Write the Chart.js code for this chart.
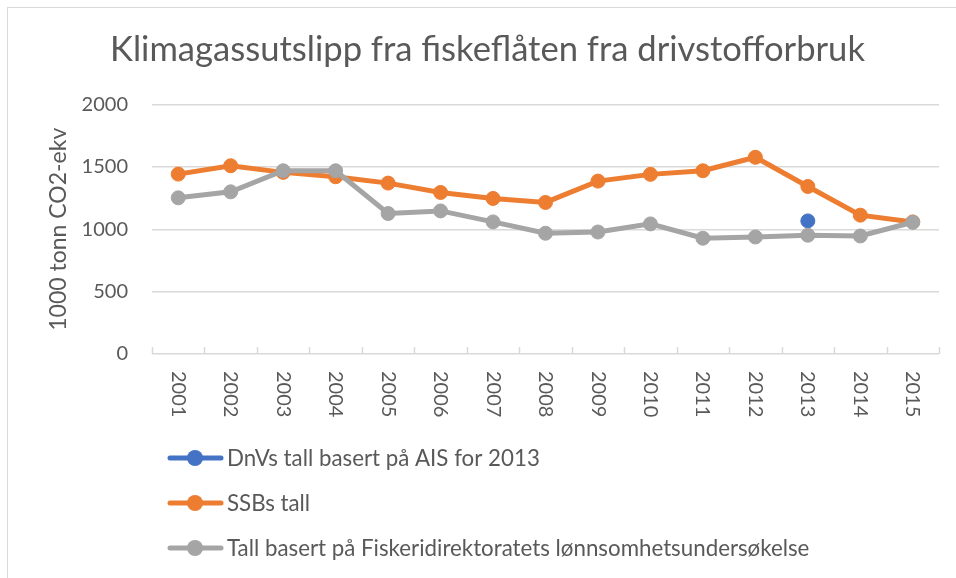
<!DOCTYPE html>
<html>
<head>
<meta charset="utf-8">
<script src="https://cdn.jsdelivr.net/npm/chart.js@4"></script>
<style>
  html, body { margin: 0; padding: 0; background: #fff; }
  #wrap { position: relative; width: 956px; height: 578px; }
</style>
</head>
<body>
<div id="wrap"><canvas id="c" width="956" height="578"></canvas></div>
<script>
const categories = ['2001','2002','2003','2004','2005','2006','2007','2008','2009','2010','2011','2012','2013','2014','2015'];
const dnvValues = [null,null,null,null,null,null,null,null,null,null,null,null,1067,null,null];
const ssbValues = [1442,1509,1456,1421,1370,1295,1247,1215,1386,1440,1469,1577,1343,1113,1059];
const fdirValues = [1252,1300,1469,1469,1126,1147,1059,968,978,1043,928,938,952,946,1056];
const yTicks = [0,500,1000,1500,2000];
const yTickLabels = ['0','500','1000','1500','2000'];
const seriesNames = ['DnVs tall basert på AIS for 2013','SSBs tall','Tall basert på Fiskeridirektoratets lønnsomhetsundersøkelse'];
const titleText = 'Klimagassutslipp fra fiskeflåten fra drivstofforbruk';
const yTitle = '1000 tonn CO2-ekv';

const FONT = 'Lato';
const TXT = '#595959';
const GRID = '#D9D9D9';
const colors = ['#4472C4','#ED7D31','#A5A5A5'];

const decor = {
  id: 'decor',
  beforeDraw(chart) {
    const ctx = chart.ctx;
    ctx.save();
    ctx.strokeStyle = GRID;
    ctx.lineWidth = 1;
    ctx.strokeRect(7.5, 7.5, 1000, 1000);
    ctx.restore();
  },
  afterDraw(chart) {
    const ctx = chart.ctx;
    const xs = chart.scales.x;
    const area = chart.chartArea;
    ctx.save();
    ctx.strokeStyle = GRID;
    ctx.lineWidth = 1.5;
    const n = categories.length;
    for (let i = 0; i <= n; i++) {
      const x = Math.round(xs.getPixelForValue(i - 0.5)) + 0.5;
      ctx.beginPath();
      ctx.moveTo(x, area.bottom);
      ctx.lineTo(x, area.bottom - 7);
      ctx.stroke();
    }
    ctx.fillStyle = TXT;
    ctx.font = '20px ' + FONT;
    ctx.textAlign = 'left';
    ctx.textBaseline = 'middle';
    categories.forEach((c, i) => {
      const x = xs.getPixelForValue(i);
      ctx.save();
      ctx.translate(x, area.bottom + 17);
      ctx.rotate(Math.PI / 2);
      ctx.fillText(c, 0, 0);
      ctx.restore();
    });
    const ly0 = area.bottom + 104, step = 45;
    chart.data.datasets.forEach((ds, i) => {
      const y = ly0 + i * step;
      ctx.strokeStyle = ds.borderColor;
      ctx.lineWidth = 5;
      ctx.lineCap = 'round';
      ctx.beginPath();
      ctx.moveTo(170, y);
      ctx.lineTo(221, y);
      ctx.stroke();
      ctx.fillStyle = ds.borderColor;
      ctx.beginPath();
      ctx.arc(195, y, 8, 0, Math.PI * 2);
      ctx.fill();
      ctx.fillStyle = TXT;
      ctx.font = '22.3px ' + FONT;
      ctx.textAlign = 'left';
      ctx.textBaseline = 'middle';
      ctx.fillText(ds.label, 227, y + 1);
    });
    ctx.restore();
  }
};

function build() {
  const mk = (i, data, order) => ({
    label: seriesNames[i],
    data: data,
    borderColor: colors[i],
    backgroundColor: colors[i],
    pointBackgroundColor: colors[i],
    pointBorderColor: colors[i],
    borderWidth: 5,
    pointRadius: 7,
    pointBorderWidth: 1,
    pointHoverRadius: 7,
    tension: 0,
    spanGaps: false,
    order: order
  });
  new Chart(document.getElementById('c'), {
    type: 'line',
    data: {
      labels: categories,
      datasets: [mk(0, dnvValues, 2), mk(1, ssbValues, 1), mk(2, fdirValues, 0)]
    },
    options: {
      responsive: false,
      animation: false,
      layout: { padding: { left: 36, right: 17, top: 7, bottom: 154 } },
      plugins: {
        legend: { display: false },
        tooltip: { enabled: false },
        title: {
          display: true,
          text: titleText,
          color: TXT,
          font: { family: FONT, size: 34.6, weight: 'normal', lineHeight: 1.2 },
          padding: { top: 22, bottom: 34 }
        }
      },
      scales: {
        x: {
          type: 'category',
          offset: true,
          grid: { display: false },
          border: { display: false },
          ticks: { display: false },
          afterFit(s) { s.height = 70; }
        },
        y: {
          min: 0, max: 2000,
          afterBuildTicks(s) { s.ticks = yTicks.map(v => ({ value: v })); },
          grid: { color: GRID, lineWidth: 1.5, drawTicks: false },
          border: { display: false },
          ticks: {
            color: TXT, font: { family: FONT, size: 20 }, padding: 24,
            callback(value) { const k = yTicks.indexOf(value); return k >= 0 ? yTickLabels[k] : ''; }
          },
          title: {
            display: true, text: yTitle, color: TXT,
            font: { family: FONT, size: 23 },
            padding: { top: 9, bottom: 0 }
          },
          afterFit(s) { s.width = 116; }
        }
      }
    },
    plugins: [decor]
  });
}
(document.fonts && document.fonts.load ? Promise.all([document.fonts.load('20px Lato'), document.fonts.load('35px Lato')]) : Promise.resolve()).then(build, build);
</script>
</body>
</html>
